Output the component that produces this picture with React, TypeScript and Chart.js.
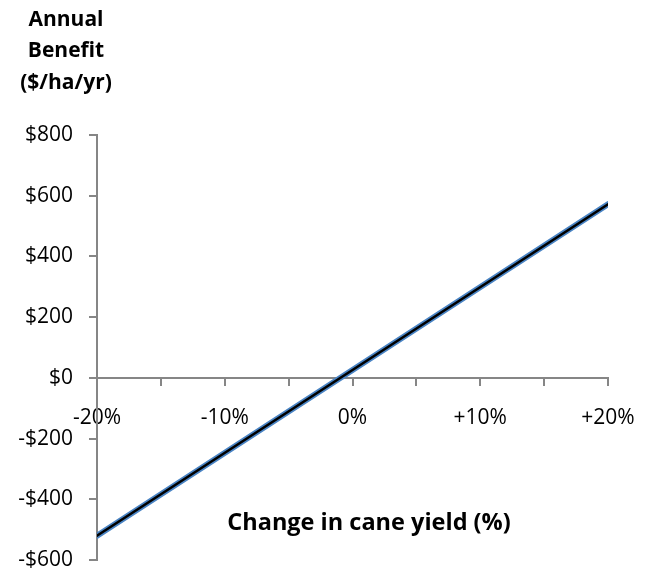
import React, { useEffect, useRef } from "react";
import { Chart, registerables } from "chart.js";

Chart.register(...registerables);

const changeInYield = [-20, 20];
const annualBenefit = [-520, 572];
const xLabelValues = [-20, -10, 0, 10, 20];
const xLabelTexts = ["-20%", "-10%", "0%", "+10%", "+20%"];
const yTitleLines = ["Annual", "Benefit", "($/ha/yr)"];
const xTitle = "Change in cane yield (%)";

const FONT = "'Open Sans', Lato, sans-serif";

export default function App() {
  const ref = useRef<HTMLCanvasElement | null>(null);
  useEffect(() => {
    if (!ref.current) return;
    const pts = changeInYield.map((x, i) => ({ x, y: annualBenefit[i] }));
    const titlePlugin = {
      id: "titles",
      afterDraw(chart: any) {
        const ctx = chart.ctx;
        ctx.save();
        ctx.fillStyle = "#000";
        ctx.textAlign = "center";
        ctx.textBaseline = "middle";
        ctx.font = `bold 21px ${FONT}`;
        yTitleLines.forEach((t, i) => ctx.fillText(t, 66, 20 + i * 31.5));
        ctx.font = `bold 23.5px ${FONT}`;
        ctx.fillText(xTitle, 369, 523);
        ctx.restore();
      },
    };
    const chart = new Chart(ref.current, {
      type: "line",
      data: {
        datasets: [
          {
            data: pts,
            borderColor: "#000000",
            borderWidth: 2.4,
            pointRadius: 0,
            order: 0,
            borderCapStyle: "round",
          },
          {
            data: pts,
            borderColor: "#4a84c4",
            borderWidth: 6,
            pointRadius: 0,
            order: 1,
            borderCapStyle: "round",
          },
        ],
      },
      options: {
        responsive: false,
        animation: false,
        layout: { padding: { left: 0, top: 135, right: 44, bottom: 12 } },
        plugins: { legend: { display: false }, tooltip: { enabled: false } },
        scales: {
          x: {
            type: "linear",
            min: -20,
            max: 20,
            position: { y: 0 } as any,
            afterFit: (s: any) => {
              s.paddingLeft = 0;
              s.paddingRight = 0;
            },
            ticks: {
              stepSize: 5,
              autoSkip: false,
              maxRotation: 0,
              padding: 21,
              color: "#000",
              font: { family: FONT, size: 21 },
              callback: (v: any) => {
                const i = xLabelValues.indexOf(Number(v));
                return i >= 0 ? xLabelTexts[i] : "";
              },
            },
            grid: {
              drawOnChartArea: false,
              drawTicks: true,
              tickLength: 7,
              color: "#868686",
              lineWidth: 2,
            },
            border: { color: "#868686", width: 2 },
          },
          y: {
            min: -600,
            max: 800,
            afterFit: (s: any) => {
              s.width = 97;
              s.paddingTop = 0;
              s.paddingBottom = 0;
            },
            ticks: {
              stepSize: 200,
              padding: 16,
              color: "#000",
              font: { family: FONT, size: 21 },
              callback: (v: any) => {
                const n = Number(v);
                return n < 0 ? "-$" + Math.abs(n) : "$" + n;
              },
            },
            grid: {
              drawOnChartArea: false,
              drawTicks: true,
              tickLength: 8,
              color: "#868686",
              lineWidth: 2,
            },
            border: { color: "#868686", width: 2 },
          },
        },
      },
      plugins: [titlePlugin],
    });
    return () => chart.destroy();
  }, []);
  return (
    <div style={{ position: "fixed", left: 0, top: 0, width: 652, height: 572, background: "#fff" }}>
      <canvas ref={ref} width={652} height={572} style={{ width: 652, height: 572 }} />
    </div>
  );
}
